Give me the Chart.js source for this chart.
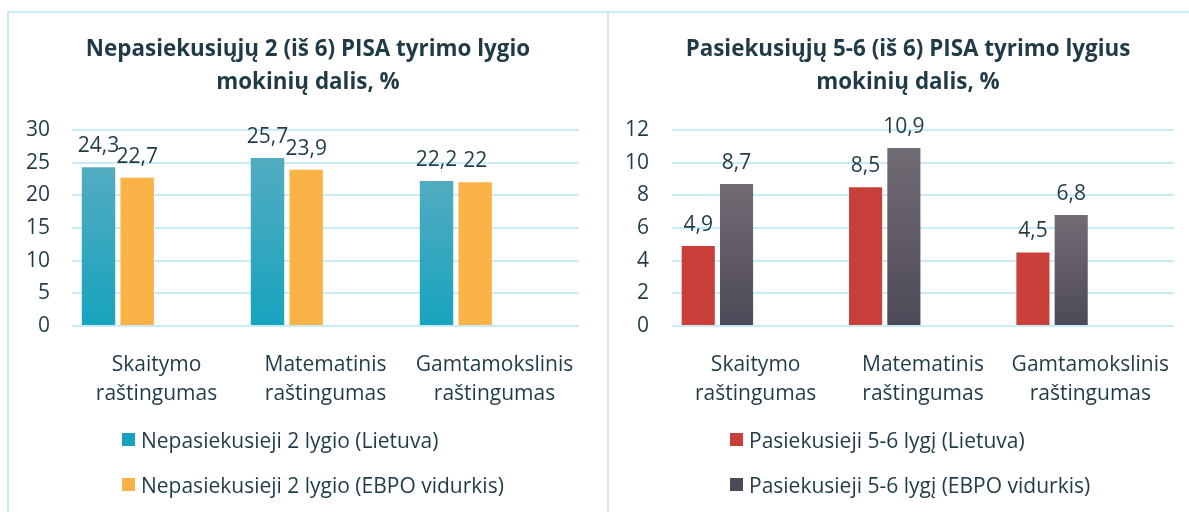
<!DOCTYPE html>
<html>
<head>
<meta charset="utf-8">
<script src="https://cdn.jsdelivr.net/npm/chart.js@4.4.1/dist/chart.umd.min.js"></script>
<style>
  html, body { margin: 0; padding: 0; background: #fff; overflow: hidden; }
  body { width: 1189px; height: 512px; position: relative; font-family: "Open Sans", sans-serif; }
  .line { position: absolute; background: #c9ebf8; }
  canvas { position: absolute; }
  .legend { position: absolute; font-size: 21px; color: #1f3b48; }
  .legend .item { position: absolute; white-space: nowrap; height: 30px; line-height: 30px; }
  .legend .box { position: absolute; left: 0; top: 8px; width: 13px; height: 13px; }
  .legend .txt { position: absolute; left: 19px; top: 0; }
</style>
</head>
<body>
<div class="line" style="left:7px;top:11px;width:1182px;height:2px"></div>
<div class="line" style="left:7px;top:11px;width:2px;height:501px"></div>
<div class="line" style="left:607px;top:11px;width:2px;height:501px"></div>

<canvas id="left" width="598" height="499" style="left:9px;top:13px"></canvas>
<canvas id="right" width="598" height="499" style="left:609px;top:13px"></canvas>
<div class="legend" id="legendLeft" style="left:122px;top:425px"></div>
<div class="legend" id="legendRight" style="left:730px;top:425px"></div>

<script>
// data
const categories = [['Skaitymo', 'raštingumas'], ['Matematinis', 'raštingumas'], ['Gamtamokslinis', 'raštingumas']];

const leftTitle = ['Nepasiekusiųjų 2 (iš 6) PISA tyrimo lygio', 'mokinių dalis, %'];
const leftLabels = ['Nepasiekusieji 2 lygio (Lietuva)', 'Nepasiekusieji 2 lygio (EBPO vidurkis)'];
const leftLietuva = [24.3, 25.7, 22.2];
const leftEbpo = [22.7, 23.9, 22];
const leftMax = 30;
const leftStep = 5;

const rightTitle = ['Pasiekusiųjų 5-6 (iš 6) PISA tyrimo lygius', 'mokinių dalis, %'];
const rightLabels = ['Pasiekusieji 5-6 lygį (Lietuva)', 'Pasiekusieji 5-6 lygį (EBPO vidurkis)'];
const rightLietuva = [4.9, 8.5, 4.5];
const rightEbpo = [8.7, 10.9, 6.8];
const rightMax = 12;
const rightStep = 2;

// colours
const textColor = '#1f3b48';
const gridColor = '#c9ebf8';
const tealTop = '#52acc1', tealBottom = '#17a3be';
const orange = '#fbb247';
const red = '#c9403a';
const grayTop = '#716c73', grayBottom = '#4e4958';

// the original chart has two empty series after the visible ones
const emptySeries = [null, null, null];

// gradient from the top of each bar down to the axis
function barGradient(top, bottom) {
    return function (c) {
        const chart = c.chart;
        const area = chart.chartArea;
        if (!area || c.raw == null) return bottom;
        const y = chart.scales.y.getPixelForValue(c.raw);
        const g = chart.ctx.createLinearGradient(0, y, 0, area.bottom);
        g.addColorStop(0, top);
        g.addColorStop(1, bottom);
        return g;
    };
}

// numbers above bars, with comma as decimal sign
const valueLabels = {
    id: 'valueLabels',
    afterDatasetsDraw(chart) {
        const ctx = chart.ctx;
        ctx.save();
        ctx.font = '21px "Open Sans"';
        ctx.fillStyle = textColor;
        ctx.textAlign = 'center';
        ctx.textBaseline = 'middle';
        chart.data.datasets.forEach(function (ds, i) {
            const meta = chart.getDatasetMeta(i);
            meta.data.forEach(function (bar, j) {
                const v = ds.data[j];
                if (v == null) return;
                ctx.fillText(String(v).replace('.', ','), bar.x, bar.y - 21);
            });
        });
        ctx.restore();
    }
};

function buildChart(id, title, labels, series, colors, max, step, rightGap, tickPad) {
    const datasets = series.map(function (data, i) {
        return {
            label: labels[i],
            data: data,
            backgroundColor: colors[i]
        };
    });
    datasets.push({ label: '', data: emptySeries });
    datasets.push({ label: '', data: emptySeries });

    return new Chart(document.getElementById(id), {
        type: 'bar',
        data: { labels: categories, datasets: datasets },
        plugins: [valueLabels],
        options: {
            responsive: false,
            animation: false,
            layout: { padding: 0 },
            datasets: { bar: { categoryPercentage: 0.915, barPercentage: 0.865 } },
            plugins: {
                legend: { display: false },
                tooltip: { enabled: false },
                title: {
                    display: true,
                    text: title,
                    color: textColor,
                    font: { family: 'Open Sans', size: 22.4, weight: 'bold', lineHeight: '33px' },
                    padding: { top: 20.5, bottom: 30.5 }
                }
            },
            scales: {
                x: {
                    grid: { display: false },
                    border: { display: false },
                    ticks: {
                        color: textColor,
                        padding: 17,
                        maxRotation: 0,
                        autoSkip: false,
                        font: { family: 'Open Sans', size: 21, lineHeight: '29px' }
                    },
                    afterFit: function (s) { s.height = 186; }
                },
                y: {
                    min: 0,
                    max: max,
                    grid: { color: gridColor, lineWidth: 2, drawTicks: false },
                    border: { display: false },
                    ticks: {
                        stepSize: step,
                        color: textColor,
                        padding: tickPad,
                        font: { family: 'Open Sans', size: 21 }
                    },
                    afterFit: function (s) { s.width = 63; }
                },
                // empty right-hand space, keeps the title centred in the panel
                gap: {
                    position: 'right',
                    grid: { display: false },
                    border: { display: false },
                    ticks: { display: false },
                    afterFit: function (s) { s.width = rightGap; }
                }
            }
        }
    });
}

function buildLegend(id, labels, colors) {
    const el = document.getElementById(id);
    labels.forEach(function (text, i) {
        const item = document.createElement('div');
        item.className = 'item';
        item.style.top = (i * 45) + 'px';
        const box = document.createElement('span');
        box.className = 'box';
        box.style.background = colors[i];
        const t = document.createElement('span');
        t.className = 'txt';
        t.textContent = text;
        item.appendChild(box);
        item.appendChild(t);
        el.appendChild(item);
    });
}

buildChart('left', leftTitle, leftLabels, [leftLietuva, leftEbpo],
    [barGradient(tealTop, tealBottom), orange], leftMax, leftStep, 28, 22);
buildChart('right', rightTitle, rightLabels, [rightLietuva, rightEbpo],
    [red, barGradient(grayTop, grayBottom)], rightMax, rightStep, 33, 23);

buildLegend('legendLeft', leftLabels, [tealBottom, orange]);
buildLegend('legendRight', rightLabels, [red, grayBottom]);
</script>
</body>
</html>
